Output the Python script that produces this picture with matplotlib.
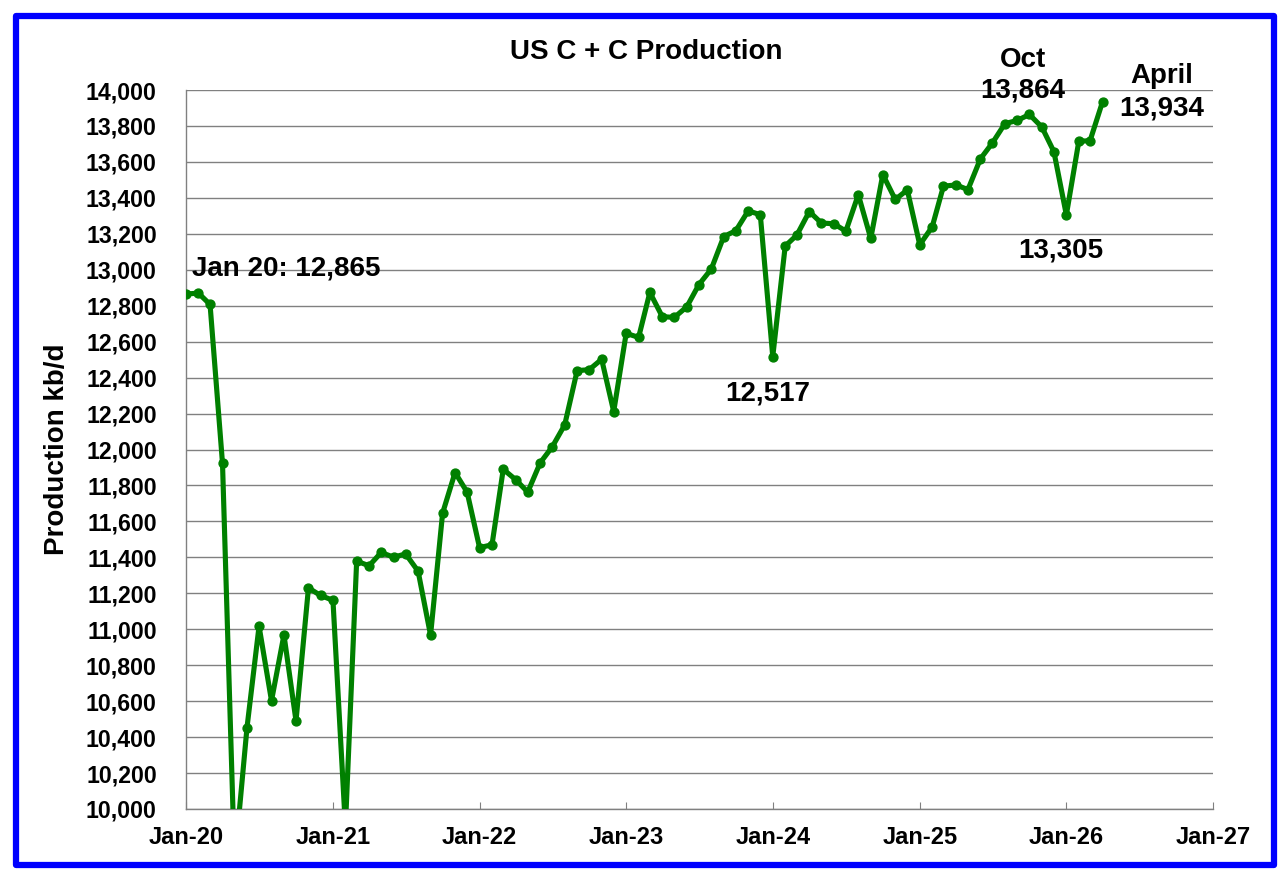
import matplotlib
matplotlib.use("Agg")
import numpy as np
import pandas as pd
import matplotlib.pyplot as plt
import matplotlib.dates as mdates
from matplotlib.patches import Rectangle
from matplotlib.ticker import FuncFormatter, MultipleLocator

# monthly US crude + condensate production, kb/d, Jan 2020 .. Apr 2026
months = pd.date_range("2020-01-01", "2026-04-01", freq="MS")
production = [
    12865, 12870, 12807, 11923, 9700, 10453, 11017, 10602, 10969, 10490, 11230, 11188,
    11161, 9900, 11379, 11353, 11427, 11401, 11419, 11323, 10967, 11646, 11872, 11763,
    11454, 11470, 11890, 11832, 11763, 11926, 12015, 12137, 12439, 12444, 12502, 12211,
    12646, 12624, 12874, 12739, 12735, 12794, 12917, 13004, 13185, 13217, 13328, 13306,
    12517, 13132, 13193, 13324, 13260, 13256, 13215, 13418, 13174, 13530, 13391, 13444,
    13139, 13239, 13465, 13472, 13446, 13617, 13706, 13813, 13831, 13864, 13794, 13657,
    13305, 13715, 13718, 13934,
]
title = "US C + C Production"
ylabel = "Production kb/d"

plt.rcParams['font.family'] = ['Liberation Sans', 'DejaVu Sans']
plt.rcParams['font.weight'] = 'bold'

green = '#008000'
gray = '#808080'

fig = plt.figure(figsize=(12.86, 8.8), dpi=100)
ax = fig.add_axes([0.1446, 0.0807, 0.7986, 0.8170])

ax.plot(months, production, color=green, linewidth=3.7, marker='o', ms=6.4,
        solid_joinstyle='round', zorder=3)

ax.set_xlim(pd.Timestamp("2020-01-01"), pd.Timestamp("2027-01-01"))
ax.set_ylim(10000, 14000)
ax.yaxis.set_major_locator(MultipleLocator(200))
ax.yaxis.set_major_formatter(FuncFormatter(lambda v, p: f"{v:,.0f}"))
ax.xaxis.set_major_locator(mdates.YearLocator())
ax.xaxis.set_major_formatter(mdates.DateFormatter("%b-%y"))

ax.grid(axis='y', color=gray, linewidth=1.0)
ax.set_axisbelow(True)
for s in ['top', 'right']:
    ax.spines[s].set_visible(False)
for s in ['left', 'bottom']:
    ax.spines[s].set_color(gray)
    ax.spines[s].set_linewidth(1.0)

ax.tick_params(axis='y', length=0, pad=21, labelsize=16.7)
ax.tick_params(axis='x', direction='in', length=5, color=gray, pad=12, labelsize=17)
for lab in ax.get_xticklabels() + ax.get_yticklabels():
    lab.set_fontweight('bold')

ax.set_ylabel(ylabel, fontsize=20, fontweight='bold', va='center')
ax.yaxis.set_label_coords(-0.1256, 0.5)
ax.text(0.448, 1.043, title, transform=ax.transAxes, ha='center', va='baseline',
        fontsize=20, fontweight='bold')

# annotations
fs = 20
ax.text(pd.Timestamp("2020-01-15"), 12967, "Jan 20: 12,865", ha='left', va='baseline',
        fontsize=fs, fontweight='bold')
ax.text(pd.Timestamp("2023-12-19"), 12272, "12,517", ha='center', va='baseline',
        fontsize=fs, fontweight='bold')
ax.text(pd.Timestamp("2025-09-14"), 14128, "Oct", ha='center', va='baseline',
        fontsize=fs, fontweight='bold', clip_on=False)
ax.text(pd.Timestamp("2025-09-14"), 13956, "13,864", ha='center', va='baseline',
        fontsize=fs, fontweight='bold')
ax.text(pd.Timestamp("2026-08-27"), 14039, "April", ha='center', va='baseline',
        fontsize=fs, fontweight='bold', clip_on=False)
ax.text(pd.Timestamp("2026-08-27"), 13861, "13,934", ha='center', va='baseline',
        fontsize=fs, fontweight='bold')
ax.text(pd.Timestamp("2025-12-17"), 13067, "13,305", ha='center', va='baseline',
        fontsize=fs, fontweight='bold')

# blue frame around the whole picture
fig.patches.append(Rectangle((16 / 1286, 1 - 864.5 / 880), (1274 - 16) / 1286,
                             (864.5 - 16) / 880, transform=fig.transFigure,
                             fill=False, edgecolor='#0000FF', linewidth=4.5,
                             joinstyle='round'))

plt.savefig("out.png", dpi=100)
print('Created successfully!')
